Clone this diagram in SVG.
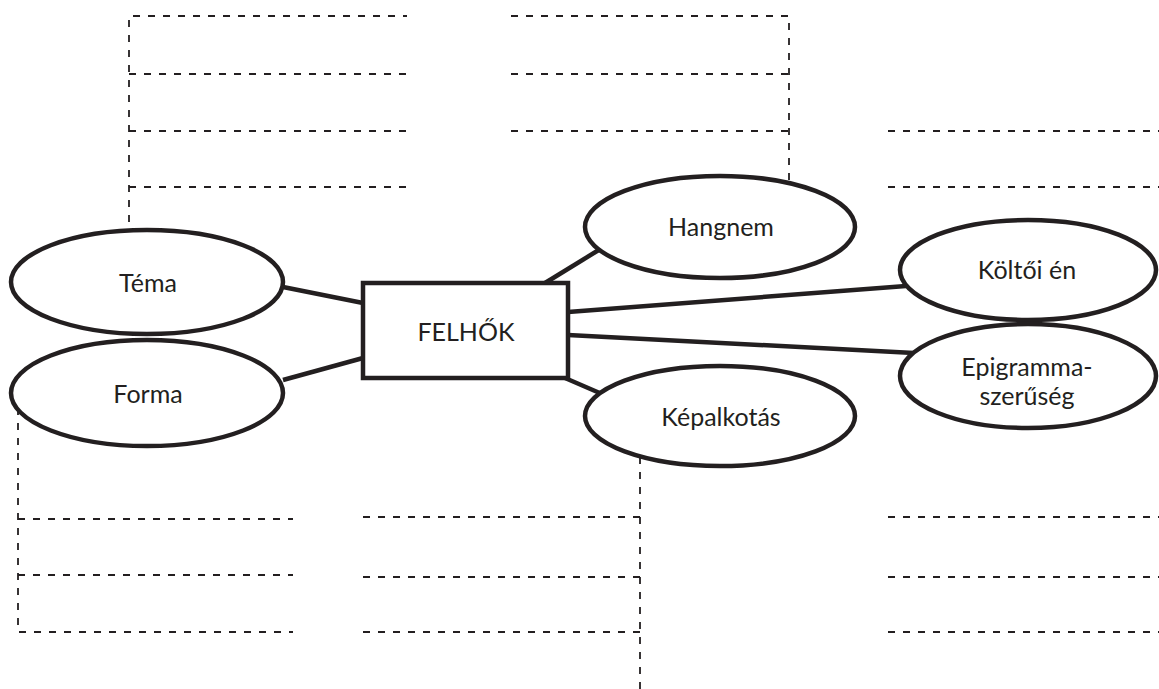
<svg xmlns="http://www.w3.org/2000/svg" width="1159" height="689" viewBox="0 0 1159 689">
<style>
.d{fill:none;stroke:#231f20;stroke-width:1.8;stroke-dasharray:7 8}
.n{fill:#fff;stroke:#231f20;stroke-width:4.5}
.c{fill:none;stroke:#231f20;stroke-width:4.5}
.t{font-family:Lato,"Open Sans",sans-serif;font-size:25px;fill:#231f20;text-anchor:middle}
</style>
<rect width="1159" height="689" fill="#fff"/>
<g id="writing-lines">
<path class="d" d="M129 222V16H407M129 74H407M129 131H407M129 187H407"/>
<path class="d" d="M511 16H789V180M511 74H789M511 131H789"/>
<path class="d" d="M888 131H1159M888 187H1159"/>
<path class="d" d="M18 408V632H293M18 519H293M18 575H293"/>
<path class="d" d="M640 457V689M363 517H640M363 577H640M363 632H640"/>
<path class="d" d="M888 517H1159M888 577H1159M888 632H1159"/>
</g>
<g id="connectors">
<line class="c" x1="283" y1="287" x2="363" y2="303"/>
<line class="c" x1="283" y1="380" x2="363" y2="358"/>
<line class="c" x1="545" y1="283" x2="602" y2="248"/>
<line class="c" x1="568" y1="312" x2="906" y2="286"/>
<line class="c" x1="568" y1="335" x2="914" y2="353"/>
<line class="c" x1="565" y1="378" x2="602" y2="394"/>
</g>
<g id="node-tema"><ellipse class="n" cx="147" cy="282" rx="136" ry="52"/><text class="t" x="148" y="292">Téma</text></g>
<g id="node-forma"><ellipse class="n" cx="147" cy="393" rx="136" ry="53"/><text class="t" x="148" y="403">Forma</text></g>
<g id="node-felhok"><rect class="n" x="363" y="283" width="205" height="95"/><text class="t" x="466" y="341">FELHŐK</text></g>
<g id="node-hangnem"><ellipse class="n" cx="720" cy="227" rx="135" ry="51"/><text class="t" x="721" y="236">Hangnem</text></g>
<g id="node-kepalkotas"><ellipse class="n" cx="720" cy="416" rx="135" ry="50"/><text class="t" x="721" y="426">Képalkotás</text></g>
<g id="node-koltoi"><ellipse class="n" cx="1028" cy="270" rx="128" ry="50"/><text class="t" x="1027" y="279">Költői én</text></g>
<g id="node-epigramma"><ellipse class="n" cx="1028" cy="376" rx="128" ry="52"/><text class="t" x="1027" y="376">Epigramma-</text><text class="t" x="1027" y="405">szerűség</text></g>
</svg>
